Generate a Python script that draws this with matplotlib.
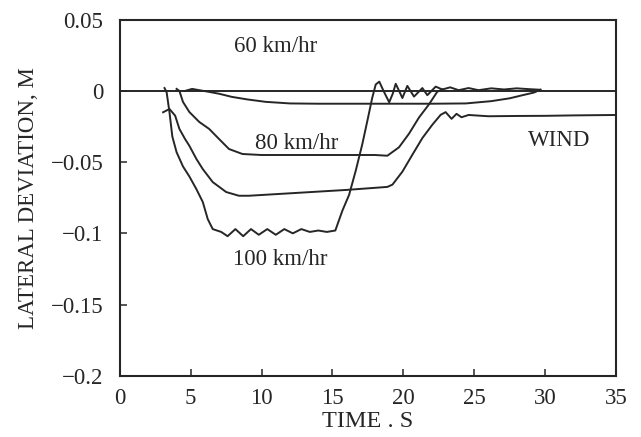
import matplotlib

matplotlib.use("Agg")
import matplotlib.pyplot as plt
from matplotlib.ticker import FixedLocator, FixedFormatter

plt.rcParams["font.family"] = ["Liberation Serif", "DejaVu Serif"]

INK = "#262626"

# reference line at zero deviation
zero_t = [0.15, 35.0]
zero_v = [0.0, 0.0]

# 100 km/hr response
t100 = [3.15, 3.3, 3.5, 3.7, 4.0, 4.45, 4.9, 5.4, 5.85, 6.2, 6.55, 7.15, 7.6,
        8.15, 8.7, 9.25, 9.8, 10.4, 11.0, 11.6, 12.2, 12.8, 13.4, 14.0, 14.6,
        15.2, 15.7, 16.17, 16.64, 17.1, 17.46, 17.8, 18.05, 18.3, 18.6, 19.0,
        19.25, 19.46, 19.7, 19.93, 20.28, 20.75, 21.34, 21.69, 22.28, 22.75,
        23.3, 23.9, 24.6, 25.3, 26.2, 27.1, 28.0, 28.9, 29.67]
v100 = [0.002, -0.001, -0.015, -0.032, -0.043, -0.053, -0.060, -0.069,
        -0.078, -0.090, -0.097, -0.099, -0.102, -0.097, -0.102, -0.097,
        -0.101, -0.097, -0.101, -0.097, -0.100, -0.097, -0.099, -0.098,
        -0.099, -0.098, -0.084, -0.073, -0.056, -0.0375, -0.021, -0.005,
        0.0045, 0.0065, 0.0, -0.008, -0.002, 0.005, 0.0, -0.005, 0.0035,
        -0.004, 0.002, -0.003, 0.003, 0.001, 0.0025, 0.0005, 0.002, 0.0005,
        0.0018, 0.001, 0.0018, 0.0012, 0.0008]

# 80 km/hr response
t80 = [4.0, 4.2, 4.45, 4.9, 5.6, 6.3, 7.0, 7.7, 8.65, 10.0, 12.0, 14.0, 16.0,
       18.0, 18.87, 19.69, 20.4, 21.1, 21.81, 22.39, 22.75]
v80 = [0.0014, 0.0, -0.0077, -0.0148, -0.0218, -0.0267, -0.0338, -0.0408,
       -0.0443, -0.045, -0.045, -0.045, -0.045, -0.045, -0.0455, -0.0396,
       -0.030, -0.0187, -0.0094, -0.0006, 0.001]

# 60 km/hr response
t60 = [4.6, 5.1, 5.6, 6.3, 7.0, 7.9, 9.0, 10.3, 12.0, 14.0, 16.0, 18.0, 20.0,
       22.0, 24.4, 26.2, 27.5, 28.5, 29.2, 29.67]
v60 = [0.0, 0.0014, 0.0005, -0.0007, -0.002, -0.0042, -0.006, -0.0077,
       -0.0088, -0.009, -0.009, -0.009, -0.009, -0.009, -0.0088, -0.0072,
       -0.0052, -0.0028, -0.0012, 0.0008]

# wind disturbance
tw = [3.05, 3.5, 3.9, 4.2, 4.6, 4.9, 5.4, 5.85, 6.55, 7.5, 8.4, 9.1, 12.65,
      16.0, 18.87, 19.23, 19.93, 20.63, 21.34, 22.04, 22.63, 22.98, 23.4,
      23.75, 24.1, 24.6, 26.0, 28.0, 30.0, 32.0, 35.0]
vw = [-0.015, -0.0127, -0.0174, -0.0267, -0.0338, -0.0385, -0.0478, -0.0549,
      -0.064, -0.071, -0.0736, -0.0736, -0.0715, -0.0695, -0.0674, -0.0658,
      -0.0567, -0.0449, -0.0331, -0.0238, -0.0168, -0.0149, -0.0196, -0.0161,
      -0.0185, -0.0169, -0.0178, -0.0176, -0.0175, -0.0172, -0.0169]

x_ticks = [0, 5, 10, 15, 20, 25, 30, 35]
x_tick_labels = ["0", "5", "10", "15", "20", "25", "30", "35"]
y_ticks = [-0.2, -0.15, -0.1, -0.05, 0.0, 0.05]
y_tick_labels = ["\u22120.2", "\u22120.15", "\u22120.1", "\u22120.05", "0", "0.05"]

fig = plt.figure(figsize=(6.41, 4.37), dpi=100)
ax = fig.add_axes([0.187, 0.140, 0.774, 0.815])

for tt, vv in [(zero_t, zero_v), (t60, v60), (t80, v80), (tw, vw), (t100, v100)]:
    ax.plot(tt, vv, color=INK, lw=1.4, solid_joinstyle="round")

ax.set_xlim(0, 35)
ax.set_ylim(-0.2, 0.05)
ax.xaxis.set_major_locator(FixedLocator(x_ticks))
ax.xaxis.set_major_formatter(FixedFormatter(x_tick_labels))
ax.yaxis.set_major_locator(FixedLocator(y_ticks))
ax.yaxis.set_major_formatter(FixedFormatter(y_tick_labels))
ax.tick_params(direction="in", length=5, width=1.1, color=INK,
               labelsize=16.5, labelcolor=INK, top=False, right=False)
ax.tick_params(axis="x", pad=9)
ax.tick_params(axis="y", pad=12)
for side in ax.spines.values():
    side.set_color(INK)
    side.set_linewidth(1.5)

ax.set_xlabel("TIME . S", fontsize=17.5, color=INK, labelpad=1)
ax.set_ylabel("LATERAL DEVIATION, M", fontsize=16.5, color=INK, labelpad=8)

text_kw = dict(fontsize=16.5, color=INK, ha="center", va="center")
ax.text(11.0, 0.031, "60 km/hr", **text_kw)
ax.text(12.5, -0.037, "80 km/hr", **text_kw)
ax.text(11.3, -0.118, "100 km/hr", **text_kw)
ax.text(31.0, -0.0345, "WIND", **text_kw)

fig.savefig("out.png", dpi=100)
